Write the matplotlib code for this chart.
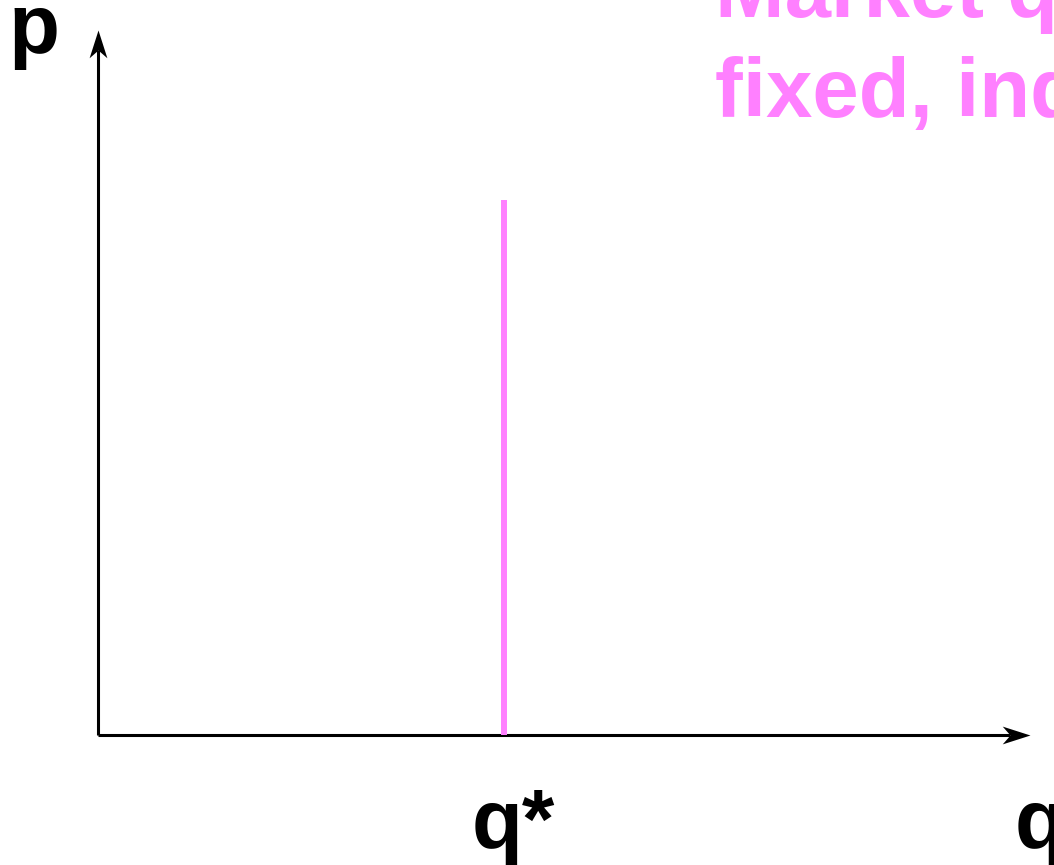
import matplotlib.pyplot as plt
import numpy as np
from matplotlib.path import Path

# economic diagram: fixed market quantity (vertical supply)
q_axis_end = 9.32
p_axis_end = 7.05
q_star = 4.06
supply_q = [q_star, q_star]
supply_p = [0.0, 5.35]

pink = '#ff80ff'
font = ['Liberation Sans', 'DejaVu Sans']

fig = plt.figure(figsize=(10.54, 8.65), dpi=100)
ax = fig.add_axes([0, 0, 1, 1])
ax.set_xlim(-0.98, 9.56)
ax.set_ylim(-1.30, 7.35)
ax.axis('off')

# stealth style arrow heads
head_r = Path([(0, 0), (-1, 0.32), (-0.72, 0), (-1, -0.32), (0, 0)],
              [Path.MOVETO, Path.LINETO, Path.LINETO, Path.LINETO, Path.CLOSEPOLY])
head_u = Path([(0, 0), (0.32, -1), (0, -0.72), (-0.32, -1), (0, 0)],
              [Path.MOVETO, Path.LINETO, Path.LINETO, Path.LINETO, Path.CLOSEPOLY])

ax.plot([0, q_axis_end - 0.2], [0, 0], color='black', lw=2.2, solid_capstyle='butt')
ax.plot([0, 0], [0, p_axis_end - 0.2], color='black', lw=2.2, solid_capstyle='butt')
ax.plot([q_axis_end], [0], marker=head_r, ms=40, color='black', mew=0)
ax.plot([0], [p_axis_end], marker=head_u, ms=40, color='black', mew=0)

ax.plot(supply_q, supply_p, color=pink, lw=4.3, solid_capstyle='butt', zorder=3)

ax.text(-0.90, 6.82, 'p', fontsize=60, fontweight='bold', family=font, va='baseline', ha='left')
ax.text(3.74, -1.13, 'q*', fontsize=60, fontweight='bold', family=font, va='baseline', ha='left')
ax.text(9.17, -1.13, 'q', fontsize=60, fontweight='bold', family=font, va='baseline', ha='left')

ax.text(6.17, 7.18, 'Market quantity', fontsize=60, fontweight='bold', family=font,
        color=pink, va='baseline', ha='left', clip_on=False)
ax.text(6.17, 6.18, 'fixed, independent of price', fontsize=60, fontweight='bold', family=font,
        color=pink, va='baseline', ha='left', clip_on=False)

plt.savefig('out.png', dpi=100)
